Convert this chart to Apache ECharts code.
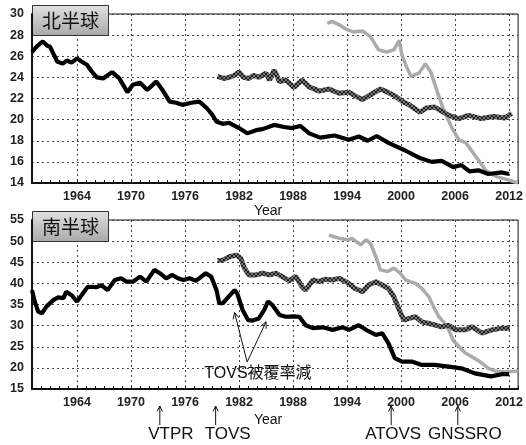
<!DOCTYPE html>
<html><head><meta charset="utf-8">
<script src="https://cdn.jsdelivr.net/npm/echarts@6/dist/echarts.min.js"></script>
<style>html,body{margin:0;padding:0;background:#fff}#c{width:526px;height:445px}</style>
</head><body><div id="c"></div>
<script>
// ---- axis / tick data ----
const xMin = 1959, xMax = 2013;
const xTickYears = [1964, 1970, 1976, 1982, 1988, 1994, 2000, 2006, 2012];
const nhTicks = {min: 14, max: 30, interval: 2};
const shTicks = {min: 15, max: 55, interval: 5};
const panelTitles = ['北半球', '南半球'];
const axisName = 'Year';

// ---- Northern hemisphere series ----
const nhBlack = [[1959.0,26.4],[1959.5,26.9],[1959.9,27.2],[1960.2,27.4],[1960.7,27.0],[1961.0,26.9],[1961.4,26.2],[1961.8,25.5],[1962.4,25.3],[1962.9,25.6],[1963.4,25.4],[1964.0,25.8],[1964.5,25.5],[1965.1,25.2],[1965.6,24.6],[1966.2,24.0],[1966.9,23.9],[1967.4,24.2],[1967.9,24.5],[1968.7,23.9],[1969.6,22.6],[1970.2,23.3],[1971.0,23.5],[1971.8,22.8],[1972.8,23.6],[1973.5,22.8],[1974.3,21.7],[1975.0,21.6],[1975.7,21.4],[1976.7,21.6],[1977.6,21.7],[1978.4,21.1],[1979.0,20.5],[1979.5,19.8],[1980.2,19.6],[1980.9,19.7],[1982.0,19.2],[1982.9,18.7],[1983.9,19.0],[1984.6,19.1],[1985.9,19.5],[1987.0,19.3],[1987.9,19.2],[1988.8,19.4],[1989.8,18.7],[1991.0,18.3],[1992.6,18.5],[1994.2,18.1],[1995.3,18.4],[1996.3,18.0],[1997.3,18.45],[1998.6,17.8],[2000.4,17.1],[2002.0,16.4],[2003.4,16.0],[2004.5,16.1],[2005.8,15.5],[2006.7,15.7],[2007.6,15.1],[2008.6,15.2],[2009.7,14.85],[2011.2,15.0],[2012.0,14.85]];
const nhHatched = [[1979.6,24.1],[1980.3,23.9],[1980.9,24.0],[1981.5,24.2],[1982.0,24.5],[1982.5,24.0],[1983.1,23.9],[1983.6,24.2],[1984.2,24.0],[1985.0,24.4],[1985.4,23.75],[1985.9,24.7],[1986.5,23.6],[1987.2,23.75],[1988.1,23.05],[1989.0,23.75],[1989.8,23.1],[1990.9,22.7],[1992.0,22.9],[1993.1,22.5],[1994.2,22.6],[1995.0,22.2],[1995.7,21.9],[1996.7,22.4],[1997.7,22.9],[1998.5,22.6],[1999.4,22.2],[2000.2,21.7],[2000.9,21.4],[2002.1,20.7],[2002.8,21.1],[2003.7,21.2],[2004.5,20.8],[2005.3,20.4],[2006.4,20.1],[2007.5,20.4],[2008.9,20.1],[2010.3,20.3],[2011.5,20.15],[2012.3,20.6]];
const nhGray = [[1991.8,29.1],[1992.3,29.3],[1993.1,29.0],[1993.8,28.6],[1994.7,28.3],[1995.7,28.4],[1996.6,27.85],[1997.5,26.6],[1998.4,26.4],[1999.2,26.6],[1999.8,27.5],[2000.1,26.1],[2000.6,25.0],[2001.1,24.1],[2002.0,24.4],[2002.7,25.3],[2003.3,24.5],[2004.2,22.2],[2004.7,21.0],[2005.6,19.3],[2006.4,18.1],[2007.2,17.8],[2008.3,16.5],[2009.4,15.2],[2010.6,14.6],[2011.9,14.3],[2013.0,14.0]];

// ---- Southern hemisphere series ----
const shBlack = [[1959.0,38.4],[1959.3,35.7],[1959.7,33.3],[1960.1,32.9],[1960.6,34.5],[1961.4,36.1],[1961.9,36.7],[1962.5,36.5],[1962.8,38.0],[1963.4,37.2],[1964.0,35.7],[1964.5,37.2],[1965.2,39.2],[1966.2,39.1],[1966.7,39.6],[1967.4,38.4],[1968.2,40.8],[1968.9,41.2],[1969.5,40.4],[1970.2,40.4],[1971.0,41.6],[1971.7,40.4],[1972.6,43.2],[1973.2,42.4],[1973.9,41.2],[1974.6,42.0],[1975.2,41.2],[1975.8,40.8],[1976.5,41.2],[1977.2,40.6],[1978.3,42.4],[1978.9,41.6],[1979.5,38.4],[1979.8,35.3],[1980.2,35.3],[1980.7,36.5],[1981.5,38.4],[1981.8,37.6],[1982.4,33.7],[1983.0,31.3],[1983.5,31.2],[1984.2,31.7],[1984.8,33.7],[1985.2,35.7],[1985.7,34.9],[1986.5,32.5],[1987.2,32.1],[1988.1,32.2],[1988.7,32.1],[1989.4,30.1],[1990.2,29.4],[1991.3,29.6],[1992.4,29.0],[1993.5,29.6],[1994.2,29.0],[1995.3,30.1],[1996.1,29.0],[1997.2,27.8],[1997.9,28.2],[1998.6,25.8],[1999.3,22.3],[2000.1,21.5],[2001.2,21.5],[2002.3,20.7],[2003.7,20.7],[2005.3,20.3],[2006.7,19.9],[2008.2,18.7],[2010.0,18.0],[2011.2,18.5],[2012.0,18.5]];
const shHatched = [[1979.6,45.4],[1980.2,45.5],[1980.9,46.3],[1981.7,46.7],[1982.2,45.9],[1982.6,43.6],[1983.1,42.0],[1983.9,42.0],[1984.6,42.4],[1985.4,42.0],[1986.1,42.4],[1986.8,41.6],[1987.6,40.6],[1988.3,41.7],[1989.0,39.2],[1989.4,38.4],[1990.2,40.8],[1990.9,40.4],[1991.6,41.0],[1992.4,40.8],[1993.1,41.2],[1993.9,40.4],[1994.9,38.8],[1995.7,38.0],[1996.4,39.6],[1997.2,40.4],[1997.9,39.6],[1998.6,38.8],[1999.2,36.8],[1999.8,33.7],[2000.3,31.3],[2000.9,31.7],[2001.6,32.1],[2002.3,30.9],[2003.1,30.5],[2003.8,30.1],[2004.5,29.7],[2005.3,30.1],[2006.0,29.0],[2007.1,29.0],[2007.9,29.7],[2009.0,28.2],[2010.1,29.0],[2011.2,29.4],[2012.1,29.4]];
const shGray = [[1992.0,51.4],[1993.1,50.7],[1994.2,50.3],[1994.5,50.7],[1995.5,49.1],[1996.1,50.3],[1996.6,49.5],[1997.2,46.3],[1997.7,43.2],[1998.5,42.8],[1999.2,43.6],[1999.9,42.4],[2000.5,40.8],[2001.0,40.4],[2001.6,40.0],[2002.3,38.8],[2003.1,36.8],[2003.6,34.5],[2004.2,32.1],[2004.7,30.9],[2005.3,29.0],[2005.8,26.4],[2006.2,25.6],[2007.1,23.6],[2007.9,22.6],[2008.6,21.7],[2009.7,19.9],[2010.5,19.2],[2011.4,19.1],[2012.7,19.2],[2013.0,19.3]];

// ---- annotations ----
const coverageText = 'TOVS被覆率減';
const coverageTextAt = [1984.1, 18.6];
const coverageArrowFrom = [1982.9, 21.4];
const coverageArrowTo = [[1981.5, 33.1], [1985.0, 30.9]];
const eventNames = ['VTPR', 'TOVS', 'ATOVS', 'GNSSRO'];
const eventYears = [1973.2, 1979.4, 1998.9, 2006.3];
const eventLabelShift = [11, 12, 2, 7];

// ---- build ----
const minorYears = [];
for (let y = xMin; y <= xMax; y++) minorYears.push(y);

function hatchPattern() {
  const c = document.createElement('canvas');
  c.width = 4; c.height = 4;
  const g = c.getContext('2d');
  g.fillStyle = '#7a7a7a'; g.fillRect(0, 0, 4, 4);
  g.fillStyle = '#1e1e1e';
  [[0,0],[1,1],[2,2],[3,3],[3,0],[2,1],[1,2],[0,3]].forEach(p => g.fillRect(p[0], p[1], 1, 1));
  return {image: c, repeat: 'repeat'};
}

const FONT = '"Liberation Sans", Arial, sans-serif';
const CJK = '"Noto Sans CJK JP", "Noto Sans CJK SC", sans-serif';
const grids = [
  {left: 32, top: 14, width: 488, height: 169},
  {left: 32, top: 220, width: 488, height: 169}
];

function xAxesFor(gi, nameGap) {
  return [
    {
      type: 'value', gridIndex: gi, min: xMin, max: xMax, position: 'bottom',
      name: axisName, nameLocation: 'middle', nameGap: nameGap,
      nameTextStyle: {fontFamily: FONT, fontSize: 14, color: '#111', padding: [0, 14, 0, 0]},
      axisLine: {show: true, lineStyle: {color: '#111', width: 2}},
      axisTick: {show: true, inside: true, length: 3, customValues: minorYears, lineStyle: {color: '#111', width: 1}},
      axisLabel: {customValues: xTickYears, formatter: v => String(v), margin: 7, fontFamily: FONT, fontWeight: 'bold', fontSize: 12.5, color: '#222'},
      splitLine: {show: false}
    },
    {
      type: 'value', gridIndex: gi, min: xMin, max: xMax, position: 'bottom',
      axisLine: {show: false}, axisLabel: {show: false},
      axisTick: {show: false, customValues: xTickYears},
      splitLine: {show: true, lineStyle: {color: '#444', type: [2, 3], width: 1}}
    }
  ];
}
function yAxisFor(gi, t) {
  return {
    type: 'value', gridIndex: gi, min: t.min, max: t.max, interval: t.interval,
    axisLine: {show: true, lineStyle: {color: '#111', width: 2}},
    axisTick: {show: false},
    axisLabel: {margin: 8, fontFamily: FONT, fontWeight: 'bold', fontSize: 12.5, color: '#222'},
    splitLine: {show: true, lineStyle: {color: '#444', type: [2, 3], width: 1}}
  };
}
const hatch = hatchPattern();
function line(data, xi, yi, style, z) {
  return {type: 'line', data: data, xAxisIndex: xi, yAxisIndex: yi, showSymbol: false, symbol: 'none',
          lineStyle: style, z: z, animation: false, clip: true};
}

const chart = echarts.init(document.getElementById('c'), null, {renderer: 'canvas'});
chart.setOption({
  animation: false,
  backgroundColor: '#fff',
  grid: grids.map(g => Object.assign({show: true, borderColor: '#111', borderWidth: 1, backgroundColor: 'transparent'}, g)),
  xAxis: [...xAxesFor(0, 20), ...xAxesFor(1, 24)],
  yAxis: [yAxisFor(0, nhTicks), yAxisFor(1, shTicks)],
  series: [
    line(nhGray, 0, 0, {color: '#ababab', width: 3.5}, 3),
    line(nhHatched, 0, 0, {color: hatch, width: 5}, 4),
    line(nhBlack, 0, 0, {color: '#000', width: 4.2}, 5),
    line(shGray, 2, 1, {color: '#ababab', width: 3.5}, 3),
    line(shHatched, 2, 1, {color: hatch, width: 5}, 4),
    line(shBlack, 2, 1, {color: '#000', width: 4.2}, 5)
  ]
});

// ---- graphic annotations, positioned through the chart's scales ----
function px(gi, v) { return chart.convertToPixel({gridIndex: gi}, v); }
function arrow(a, b, head) {
  const ang = Math.atan2(b[1] - a[1], b[0] - a[0]);
  const h = head || 6, sp = 0.45;
  const p1 = [b[0] - h * Math.cos(ang - sp), b[1] - h * Math.sin(ang - sp)];
  const p2 = [b[0] - h * Math.cos(ang + sp), b[1] - h * Math.sin(ang + sp)];
  return [
    {type: 'line', shape: {x1: a[0], y1: a[1], x2: b[0], y2: b[1]}, style: {stroke: '#111', lineWidth: 1}, z: 100},
    {type: 'polyline', shape: {points: [p1, b, p2]}, style: {stroke: '#111', lineWidth: 1, fill: null}, z: 100}
  ];
}
const g = [];
grids.forEach((gr, i) => {
  g.push({
    type: 'group', left: gr.left, top: gr.top - 9, z: 200,
    children: [
      {type: 'rect', shape: {x: 0, y: 0, width: 76, height: 30},
       style: {fill: new echarts.graphic.LinearGradient(0, 0, 0, 1, [{offset: 0, color: '#e2e2e2'}, {offset: 0.5, color: '#c4c4c4'}, {offset: 1, color: '#a9a9a9'}]),
               stroke: '#333', lineWidth: 1}},
      {type: 'text', x: 38, y: 15, style: {text: panelTitles[i], font: '19px ' + CJK, fill: '#111', align: 'center', verticalAlign: 'middle'}}
    ]
  });
});
const vtx = px(1, coverageArrowFrom);
coverageArrowTo.forEach(t => g.push(...arrow(vtx, px(1, t), 7)));
const ct = px(1, coverageTextAt);
g.push({type: 'text', x: ct[0], y: ct[1], z: 100,
        style: {text: coverageText, font: '16px ' + FONT + ', ' + CJK, fill: '#111', align: 'center', verticalAlign: 'middle'}});
const axisBottom = grids[1].top + grids[1].height;
eventNames.forEach((n, i) => {
  const x = px(1, [eventYears[i], shTicks.min])[0];
  g.push(...arrow([x, axisBottom + 36], [x, axisBottom + 17], 6));
  g.push({type: 'text', x: x + eventLabelShift[i], y: axisBottom + 45, z: 100,
          style: {text: n, font: '17px ' + FONT, fill: '#111', align: 'center', verticalAlign: 'middle'}});
});
chart.setOption({graphic: g});
</script>
</body></html>
